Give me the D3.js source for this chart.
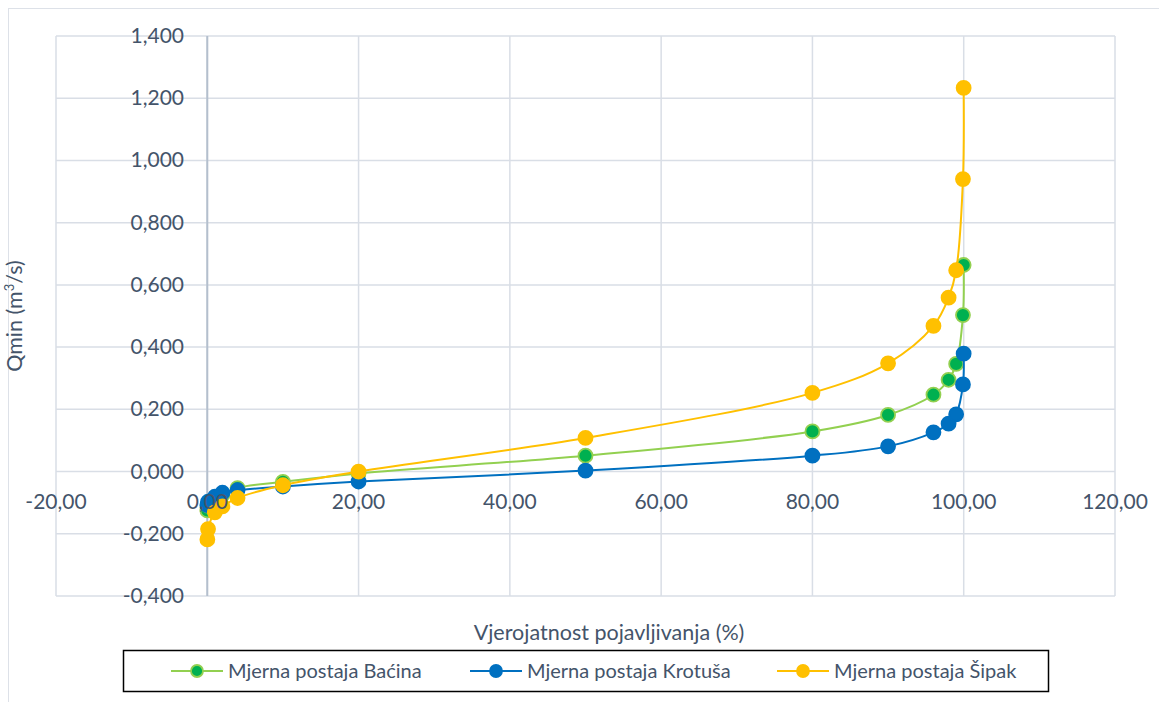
<!DOCTYPE html>
<html>
<head>
<meta charset="utf-8">
<script src="https://cdn.jsdelivr.net/npm/d3@7"></script>
<style>
  html, body { margin: 0; padding: 0; background: #ffffff; }
  svg { display: block; font-family: Lato, "Open Sans", sans-serif; }
</style>
</head>
<body>
<svg id="chart" width="1159" height="702"></svg>
<script>
// Probability of occurrence (%) and minimum discharge per gauging station (m³/s)
const probability = [0.01, 0.1, 1, 2, 4, 10, 20, 50, 80, 90, 96, 98, 99, 99.9, 99.99];
const bacina  = [-0.125, -0.110, -0.090, -0.075, -0.053, -0.033, -0.006, 0.051, 0.129, 0.182, 0.247, 0.295, 0.346, 0.503, 0.664];
const krotusa = [-0.108, -0.097, -0.081, -0.068, -0.060, -0.048, -0.032, 0.003, 0.051, 0.081, 0.126, 0.154, 0.184, 0.280, 0.379];
const sipak   = [-0.218, -0.185, -0.131, -0.112, -0.085, -0.044, 0.000, 0.108, 0.253, 0.348, 0.468, 0.559, 0.647, 0.940, 1.233];

const seriesNames = ["Mjerna postaja Baćina", "Mjerna postaja Krotuša", "Mjerna postaja Šipak"];
const xTicks = [-20, 0, 20, 40, 60, 80, 100, 120];
const yTicks = [-0.4, -0.2, 0, 0.2, 0.4, 0.6, 0.8, 1.0, 1.2, 1.4];
const xTitle = "Vjerojatnost pojavljivanja (%)";

const series = [
  { name: seriesNames[0], values: bacina,  line: "#92d050", fill: "#00b050", stroke: "#92d050" },
  { name: seriesNames[1], values: krotusa, line: "#0070c0", fill: "#0070c0", stroke: "#0070c0" },
  { name: seriesNames[2], values: sipak,   line: "#ffc000", fill: "#ffc000", stroke: "#ffc000" }
];

const svg = d3.select("#chart");
const textColor = "#44546a";
const gridColor = "#d9dee6";

const x = d3.scaleLinear().domain([-20, 120]).range([56, 1115]);
const y = d3.scaleLinear().domain([-0.4, 1.4]).range([596, 36]);

const fmtX = v => d3.format(".2f")(v).replace("−", "-").replace(".", ",");
const fmtY = v => d3.format(".3f")(v).replace("−", "-").replace(".", ",");

// Outer chart border
svg.append("rect")
  .attr("x", 8.5).attr("y", 8.5).attr("width", 1170).attr("height", 720)
  .attr("fill", "none").attr("stroke", "#dde1e8").attr("stroke-width", 1);

// Gridlines
const grid = svg.append("g");
grid.selectAll("line.gx").data(xTicks).join("line")
  .attr("x1", d => x(d)).attr("x2", d => x(d))
  .attr("y1", y(1.4)).attr("y2", y(-0.4))
  .attr("stroke", gridColor).attr("stroke-width", 1.5);
grid.selectAll("line.gy").data(yTicks).join("line")
  .attr("x1", x(-20)).attr("x2", x(120))
  .attr("y1", d => y(d)).attr("y2", d => y(d))
  .attr("stroke", gridColor).attr("stroke-width", 1.5);

// Vertical value axis at x = 0
svg.append("line")
  .attr("x1", x(0)).attr("x2", x(0))
  .attr("y1", y(1.4)).attr("y2", y(-0.4))
  .attr("stroke", "#b4bfcd").attr("stroke-width", 2);

// Series lines and markers
const lineGen = d3.line()
  .x(d => x(d[0])).y(d => y(d[1]))
  .curve(d3.curveCatmullRom.alpha(0.5));

series.forEach(s => {
  const pts = probability.map((p, i) => [p, s.values[i]]);
  const g = svg.append("g");
  g.append("path")
    .attr("d", lineGen(pts))
    .attr("fill", "none").attr("stroke", s.line).attr("stroke-width", 2);
  g.selectAll("circle").data(pts).join("circle")
    .attr("cx", d => x(d[0])).attr("cy", d => y(d[1]))
    .attr("r", 7)
    .attr("fill", s.fill).attr("stroke", s.stroke).attr("stroke-width", 1.8);
});

// Y tick labels
svg.append("g").selectAll("text").data(yTicks).join("text")
  .attr("x", 184).attr("y", d => y(d) + 7)
  .attr("text-anchor", "end")
  .attr("font-size", 21).attr("fill", textColor)
  .text(fmtY);

// X tick labels, placed just below the zero line
svg.append("g").selectAll("text").data(xTicks).join("text")
  .attr("x", d => x(d)).attr("y", y(0) + 37)
  .attr("text-anchor", "middle")
  .attr("font-size", 21).attr("fill", textColor)
  .text(fmtX);

// Axis titles
svg.append("text")
  .attr("x", 609).attr("y", 640)
  .attr("text-anchor", "middle")
  .attr("font-size", 21.5).attr("fill", textColor)
  .text(xTitle);

const yTitle = svg.append("text")
  .attr("transform", `translate(22, ${(y(1.4) + y(-0.4)) / 2}) rotate(-90)`)
  .attr("text-anchor", "middle")
  .attr("font-size", 21.5).attr("fill", textColor);
yTitle.append("tspan").text("Qmin (m");
yTitle.append("tspan").attr("font-size", 13).attr("dy", -8).text("3");
yTitle.append("tspan").attr("dy", 8).text("/s)");

// Legend
const legend = svg.append("g");
legend.append("rect")
  .attr("x", 123.5).attr("y", 650.5).attr("width", 925).attr("height", 41)
  .attr("fill", "#ffffff").attr("stroke", "#000000").attr("stroke-width", 1.5);

const legendX = [197, 496, 803];
series.forEach((s, i) => {
  const cx = legendX[i], cy = 671;
  legend.append("line")
    .attr("x1", cx - 26).attr("x2", cx + 26).attr("y1", cy).attr("y2", cy)
    .attr("stroke", s.line).attr("stroke-width", 2);
  legend.append("circle")
    .attr("cx", cx).attr("cy", cy).attr("r", 6)
    .attr("fill", s.fill).attr("stroke", s.stroke).attr("stroke-width", 1.8);
  legend.append("text")
    .attr("x", cx + 31).attr("y", cy + 7)
    .attr("font-size", 20).attr("fill", textColor)
    .text(s.name);
});
</script>
</body>
</html>
